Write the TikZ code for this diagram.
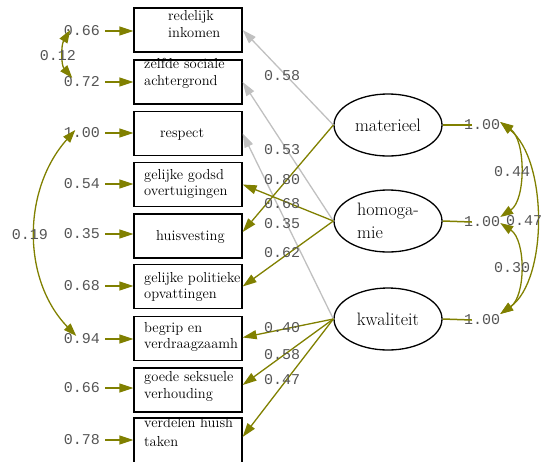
\documentclass[tikz,border=0pt]{standalone}
\usepackage{fontspec}
\newfontfamily\nummono{Liberation Mono}
\usetikzlibrary{arrows.meta,shapes.geometric}
\definecolor{olv}{HTML}{808000}
\definecolor{lgry}{HTML}{C0C0C0}
\definecolor{numc}{HTML}{555555}
\begin{document}
\begin{tikzpicture}[x=1pt,y=-1pt,
  box/.style={draw=black,line width=1.3pt,minimum width=108pt,minimum height=44pt,inner sep=0pt},
  btxt/.style={anchor=base west,inner sep=0pt,font=\fontsize{14.5}{16}\selectfont},
  lat/.style={draw=black,ellipse,line width=1.3pt,minimum width=108pt,minimum height=62pt,inner sep=0pt,align=left,fill=white,font=\fontsize{18}{23}\selectfont},
  num/.style={inner sep=0pt,text=numc,font=\nummono\fontsize{15}{15}\selectfont},
  hd/.style={-{Triangle[length=14pt,width=9pt]}},
  oarr/.style={olv,line width=1.3pt,hd},
  garr/.style={lgry,line width=1.3pt,hd},
  cov/.style={olv,line width=1.3pt,{Triangle[length=13pt,width=9pt]}-{Triangle[length=13pt,width=9pt]}},
  oline/.style={olv,line width=1.5pt},
]
\useasboundingbox (0,0) rectangle (543,461);

% observed variables
\node[box] (b1) at (188,30) {};
\node[box] (b2) at (188,82) {};
\node[box] (b3) at (188,133.5) {};
\node[box] (b4) at (188,184.5) {};
\node[box] (b5) at (188,236) {};
\node[box] (b6) at (188,286.5) {};
\node[box] (b7) at (188,338.5) {};
\node[box] (b8) at (188,390) {};
\node[box,minimum height=48pt] (b9) at (188,442) {};

\node[btxt] (t1a) at (168,20) {redelijk};
\node[btxt] (t1b) at (168,37) {inkomen};
\node[btxt] (t2a) at (144,68) {zelfde sociale};
\node[btxt] (t2b) at (144,85) {achtergrond};
\node[btxt] (t3a) at (160,137) {respect};
\node[btxt] (t4a) at (144,179) {gelijke godsd};
\node[btxt] (t4b) at (144,195) {overtuigingen};
\node[btxt] (t5a) at (156,240) {huisvesting};
\node[btxt] (t6a) at (144,282) {gelijke politieke};
\node[btxt] (t6b) at (144,298) {opvattingen};
\node[btxt] (t7a) at (144,332) {begrip en};
\node[btxt] (t7b) at (144,348) {verdraagzaamh};
\node[btxt] (t8a) at (144,381) {goede seksuele};
\node[btxt] (t8b) at (144,398) {verhouding};
\node[btxt] (t9a) at (144,427) {verdelen huish};
\node[btxt] (t9b) at (144,446) {taken};

% latent variables
\node[lat] (mat) at (388,125) {materieel};
\node[lat] (hom) at (388,221) {homoga-\\mie};
\node[lat] (kwa) at (388,319) {kwaliteit};

% error variances
\node[num] (e1) at (82,31) {0.66};
\node[num] (e2) at (82,82) {0.72};
\node[num] (e3) at (82,133) {1.00};
\node[num] (e4) at (82,184) {0.54};
\node[num] (e5) at (82,234) {0.35};
\node[num] (e6) at (82,286) {0.68};
\node[num] (e7) at (82,339) {0.94};
\node[num] (e8) at (82,388) {0.66};
\node[num] (e9) at (82,440) {0.78};

\foreach \i in {1,...,9}{
  \draw[oarr] ([xshift=5pt]e\i.east) -- (b\i.west |- e\i.east);
}

% error covariances
\draw[cov] ([xshift=6.5pt,yshift=1pt]e1.west) .. controls (61,45) and (61,65) .. ([xshift=8.5pt,yshift=4pt]e2.west);
\node[num] (c12) at (58,56) {0.12};
\draw[cov] ([xshift=11.5pt,yshift=3pt]e3.west) .. controls (22,190) and (22,280) .. ([xshift=12.5pt,yshift=3pt]e7.west);
\node[num] (c37) at (30,235) {0.19};

% factor variances
\node[num] (f1) at (482,125) {1.00};
\node[num] (f2) at (482,222) {1.00};
\node[num] (f3) at (482,320) {1.00};
\draw[oline] (mat.east) -- ([xshift=8pt]f1.west);
\draw[oline] (hom.east) -- ([xshift=8pt]f2.west);
\draw[oline] (kwa.east) -- ([xshift=8pt]f3.west);

% factor covariances
\draw[cov] ([yshift=3pt]f1.east) .. controls (526,140) and (526,200) .. ([yshift=5pt]f2.east);
\draw[cov] ([yshift=-1pt]f2.east) .. controls (526,240) and (526,296) .. ([yshift=6pt]f3.east);
\draw[cov] ([yshift=3pt]f1.east) .. controls (548,160) and (548,280) .. ([yshift=6pt]f3.east);
\node[num] (c12f) at (512,172) {0.44};
\node[num] (c23f) at (512,268) {0.30};
\node[num] (c13f) at (524,221) {0.47};

% loadings
\draw[garr] (mat.west) -- (b1.east);
\draw[garr] (hom.west) -- (b2.east);
\draw[garr] (kwa.west) -- (b3.east);
\draw[oarr] (mat.west) -- ([yshift=4pt]b5.east);
\draw[oarr] (hom.west) -- (b4.east);
\draw[oarr] (hom.west) -- (b6.east);
\draw[oarr] (kwa.west) -- ([yshift=1pt]b7.east);
\draw[oarr] (kwa.west) -- ([yshift=5pt]b8.east);
\draw[oarr] (kwa.west) -- ([yshift=5pt]b9.east);

\node[num] (l1) at (282,76) {0.58};
\node[num] (l2) at (282,150) {0.53};
\node[num] (l3) at (282,180) {0.80};
\node[num] (l4) at (282,204) {0.68};
\node[num] (l5) at (282,224) {0.35};
\node[num] (l6) at (282,253) {0.62};
\node[num] (l7) at (282,328) {0.40};
\node[num] (l8) at (282,355) {0.58};
\node[num] (l9) at (282,380) {0.47};
\end{tikzpicture}
\end{document}
